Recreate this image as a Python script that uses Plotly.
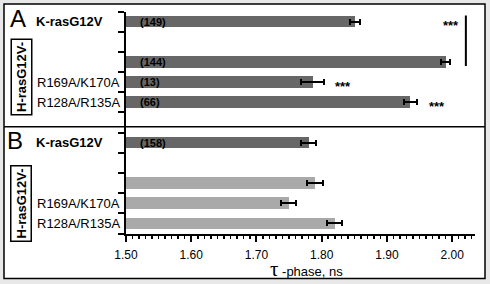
import plotly.graph_objects as go

# ---------------- data ----------------
rows_a = [0, 1, 2, 3, 4, 5]
labels_a = ["K-rasG12V", "", "", "R169A/K170A", "R128A/R135A", ""]
n_a = ["(149)", "", "(144)", "(13)", "(66)", ""]
bar_rows_a = [0, 2, 3, 4]
tau_a = [1.851, 1.990, 1.786, 1.936]
err_a = [0.0077, 0.0064, 0.017, 0.0105]
stars_a = ["***", "", "***", "***"]

rows_b = [0, 1, 2, 3, 4]
labels_b = ["K-rasG12V", "", "", "R169A/K170A", "R128A/R135A"]
n_b = ["(158)", "", "", "", ""]
dark_rows_b = [0]
tau_b_dark = [1.780]
err_b_dark = [0.0115]
light_rows_b = [2, 3, 4]
tau_b_light = [1.790, 1.7495, 1.8198]
err_b_light = [0.012, 0.0115, 0.011]

x_ticks = [1.50, 1.60, 1.70, 1.80, 1.90, 2.00]
x_tick_text = ["1.50", "1.60", "1.70", "1.80", "1.90", "2.00"]
x_range = [1.50, 2.035]
x_title = "<span style='font-family:Liberation Serif;font-size:21px'>τ</span> -phase, ns"
group_label = "H-rasG12V-"
bracket_x = 2.021
bracket_star_x = 1.983

DARK = "#676767"
LIGHT = "#a9a9a9"
FONT = "Liberation Sans"
W, H = 490, 284

def px(x):
    return x / W

def py(y):
    return 1 - y / H

fig = go.Figure()

fig.add_trace(go.Bar(
    y=bar_rows_a, x=tau_a, orientation="h", width=0.58,
    marker=dict(color=DARK, line=dict(width=0)),
    error_x=dict(type="data", array=err_a, color="black", thickness=2, width=3),
    xaxis="x", yaxis="y", showlegend=False, hoverinfo="skip"))

fig.add_trace(go.Bar(
    y=dark_rows_b, x=tau_b_dark, orientation="h", width=0.58,
    marker=dict(color=DARK, line=dict(width=0)),
    error_x=dict(type="data", array=err_b_dark, color="black", thickness=2, width=3),
    xaxis="x2", yaxis="y2", showlegend=False, hoverinfo="skip"))

fig.add_trace(go.Bar(
    y=light_rows_b, x=tau_b_light, orientation="h", width=0.58,
    marker=dict(color=LIGHT, line=dict(width=0)),
    error_x=dict(type="data", array=err_b_light, color="black", thickness=2, width=3),
    xaxis="x2", yaxis="y2", showlegend=False, hoverinfo="skip"))

xdom = [px(126), px(475)]
ya_dom = [py(132.5), py(11.5)]
yb_dom = [py(233.5), py(132.5)]

common_y = dict(showgrid=False, zeroline=False, showline=True, linecolor="black",
                linewidth=2, ticks="outside", ticklen=6, tickwidth=2, tickcolor="black",
                showticklabels=False, fixedrange=True, automargin=False)

fig.update_layout(
    template="none",
    width=W, height=H, autosize=False,
    margin=dict(l=0, r=0, t=0, b=0, pad=0, autoexpand=False),
    paper_bgcolor="#e8e8e8",
    plot_bgcolor="rgba(0,0,0,0)",
    bargap=0,
    showlegend=False,
    font=dict(family=FONT, color="black"),
    xaxis=dict(domain=xdom, range=x_range, visible=False, anchor="y", automargin=False),
    yaxis=dict(domain=ya_dom, range=[5.5, -0.5], anchor="x",
               tickvals=[r - 0.5 for r in rows_a] + [rows_a[-1] + 0.5], **common_y),
    xaxis2=dict(domain=xdom, range=x_range, anchor="y2", showgrid=False, zeroline=False,
                showline=True, linecolor="black", linewidth=2, automargin=False,
                ticks="outside", ticklen=6, tickwidth=2, tickcolor="black",
                tickvals=x_ticks, ticktext=x_tick_text,
                tickfont=dict(family=FONT, size=12, color="black"),
                ticklabelstandoff=3,
                minor=dict(dtick=0.01, tick0=1.5, ticks="outside", ticklen=3,
                           tickwidth=1.5, tickcolor="black", showgrid=False)),
    yaxis2=dict(domain=yb_dom, range=[4.5, -0.5], anchor="x2",
                tickvals=[r - 0.5 for r in rows_b] + [rows_b[-1] + 0.5], **common_y),
)

shapes = [
    dict(type="rect", xref="paper", yref="paper", x0=px(4), x1=px(485), y0=py(278.5), y1=py(4),
         line=dict(color="black", width=1.5), fillcolor="white", layer="below"),
    dict(type="line", xref="paper", yref="paper", x0=px(4), x1=px(485), y0=py(126.7), y1=py(126.7),
         line=dict(color="black", width=1.5)),
    dict(type="line", xref="x", yref="y", x0=bracket_x, x1=bracket_x, y0=-0.3, y1=2.2,
         line=dict(color="black", width=2)),
]
fig.update_layout(shapes=shapes)

ann = []

def A(**kw):
    d = dict(showarrow=False, xanchor="center", yanchor="middle")
    d.update(kw)
    ann.append(d)

# panel letters
A(text="A", xref="paper", yref="paper", x=px(17.5), y=py(18.5), font=dict(size=24, family=FONT))
A(text="B", xref="paper", yref="paper", x=px(15.5), y=py(140.5), font=dict(size=24, family=FONT))

def add_labels(labels, rows, yref):
    for lab, r in zip(labels, rows):
        if not lab:
            continue
        if lab.startswith("K-ras"):
            A(text="<b>%s</b>" % lab, xref="paper", yref=yref, x=px(34), y=r,
              xanchor="left", font=dict(size=13, family=FONT))
        else:
            A(text=lab, xref="paper", yref=yref, x=px(121.5), y=r,
              xanchor="right", font=dict(size=13, family=FONT))

add_labels(labels_a, rows_a, "y")
add_labels(labels_b, rows_b, "y2")

def add_n(ns, rows, yref):
    for t, r in zip(ns, rows):
        if t:
            A(text="<b>%s</b>" % t, xref="paper", yref=yref, x=px(138), y=r,
              xanchor="left", font=dict(size=11, family=FONT))

add_n(n_a, rows_a, "y")
add_n(n_b, rows_b, "y2")

# significance stars
for s, r, v, e in zip(stars_a, bar_rows_a, tau_a, err_a):
    if not s:
        continue
    sx = bracket_star_x if r == 0 else v + e + 0.015
    A(text="<b>%s</b>" % s, xref="x", yref="y", x=sx, y=r, xanchor="left",
      yshift=-4, font=dict(size=13, family=FONT))

# group boxes
for cy in (77.5, 204):
    A(text="<b>%s</b>" % group_label, xref="paper", yref="paper",
      x=px(21), y=py(cy), textangle=-90,
      bordercolor="black", borderwidth=1.5, borderpad=2,
      font=dict(size=13, family=FONT))

# x title
A(text=x_title, xref="paper", yref="paper", x=px(306), y=py(269),
  font=dict(size=13, family=FONT))

fig.update_layout(annotations=ann)

fig.write_html("out.html", config={"displayModeBar": False, "staticPlot": True},
               post_script="document.body.style.margin='0';")
